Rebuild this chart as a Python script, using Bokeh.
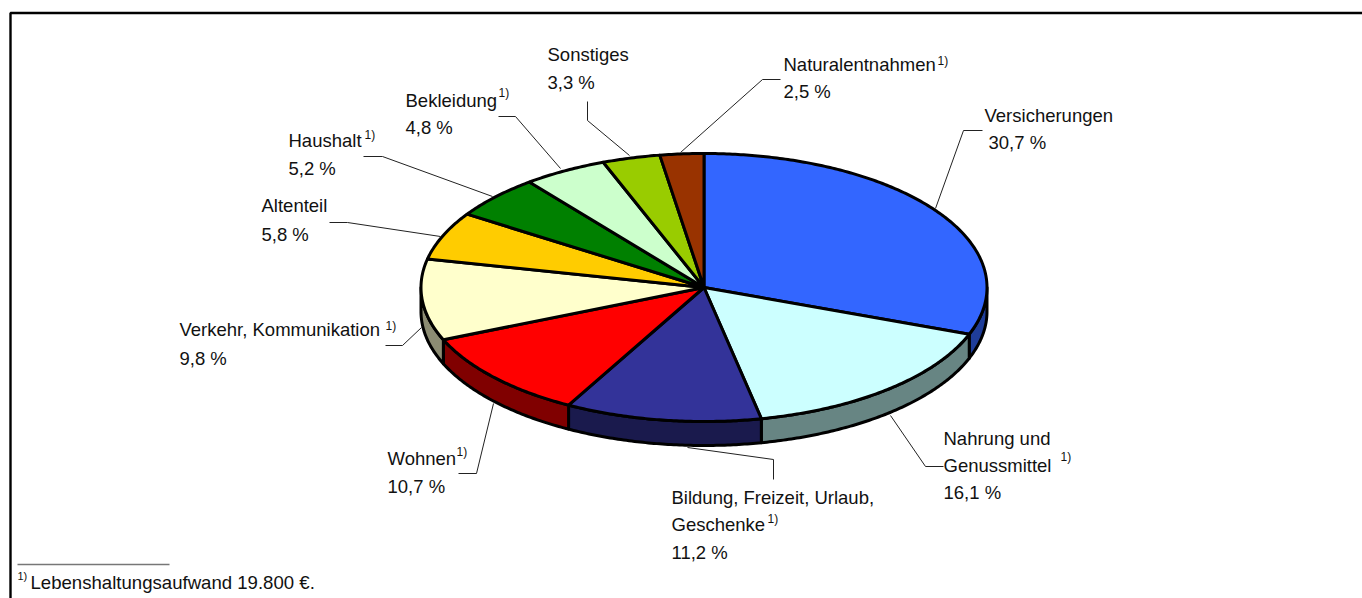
import math
from bokeh.plotting import figure
from bokeh.embed import file_html
from bokeh.resources import INLINE
from bokeh.core.properties import value

categories = ["Versicherungen", "Nahrung und Genussmittel", "Bildung, Freizeit, Urlaub, Geschenke",
              "Wohnen", "Verkehr, Kommunikation", "Altenteil", "Haushalt", "Bekleidung",
              "Sonstiges", "Naturalentnahmen"]
shares = [30.7, 16.1, 11.2, 10.7, 9.8, 5.8, 5.2, 4.8, 3.3, 2.5]
top_colors = ["#3366FF", "#CCFFFF", "#333399", "#FF0000", "#FFFFCC",
              "#FFCC00", "#008000", "#CCFFCC", "#99CC00", "#993300"]
side_colors = ["#1F3D99", "#678583", "#1A1A4D", "#800000", "#8C8C73",
               "#806600", "#004000", "#668066", "#4D6600", "#4D1A00"]

FS, SS = 18.5, 12
labels = [
    ("Sonstiges", 547, 54), ("3,3 %", 547, 82),
    ("Naturalentnahmen", 783, 64), ("2,5 %", 783, 91),
    ("Versicherungen", 984, 115), ("30,7 %", 988, 142),
    ("Bekleidung", 405, 100), ("4,8 %", 405, 127),
    ("Haushalt", 288, 140), ("5,2 %", 288, 168),
    ("Altenteil", 261, 205), ("5,8 %", 261, 234),
    ("Verkehr, Kommunikation", 179, 329), ("9,8 %", 179, 358),
    ("Wohnen", 387, 458), ("10,7 %", 387, 486),
    ("Nahrung und", 943, 438), ("Genussmittel", 943, 465), ("16,1 %", 943, 492),
    ("Bildung, Freizeit, Urlaub,", 671, 497), ("Geschenke", 671, 524), ("11,2 %", 671, 552),
]
notes = [("1)", 937, 60), ("1)", 498, 92), ("1)", 364, 134), ("1)", 385, 325),
         ("1)", 456, 451), ("1)", 1060, 456), ("1)", 767, 518)]
leaders = [
    ([935, 963, 982], [208, 130, 130]),
    ([890, 925, 943], [415, 466, 466]),
    ([687, 773, 773], [447, 459, 479]),
    ([493, 476, 458], [403, 473, 473]),
    ([421, 402, 385], [327, 345, 345]),
    ([440, 347, 329], [236, 222, 222]),
    ([492, 382, 363], [196, 156, 156]),
    ([560, 515, 498], [168, 116, 116]),
    ([629, 587, 587], [155, 120, 101]),
    ([680, 762, 780], [152, 79, 79]),
]

W, H = 1362, 598
p = figure(width=W, height=H, x_range=(0, W), y_range=(H, 0),
           output_backend="svg", toolbar_location=None, min_border=0)
p.axis.visible = False
p.grid.visible = False
p.outline_line_color = None

p.line([10, 10, 1362], [598, 12.5, 12.5], line_color="black", line_width=2.4)

CX, CY, RX, RY, DEPTH = 703.5, 287, 283, 134, 24
total = sum(shares)

def pt(t, dy=0):
    return CX + RX * math.sin(t), CY - RY * math.cos(t) + dy

def arc(a, b, dy=0):
    n = max(2, int(abs(b - a) / 0.01))
    pts = [pt(a + (b - a) * i / n, dy) for i in range(n + 1)]
    return [q[0] for q in pts], [q[1] for q in pts]

bounds = [0]
for s in shares:
    bounds.append(bounds[-1] + s / total * 2 * math.pi)

for i in range(len(shares)):
    a, b = max(bounds[i], math.pi / 2), min(bounds[i + 1], 3 * math.pi / 2)
    if b <= a:
        continue
    x1, y1 = arc(a, b)
    x2, y2 = arc(b, a, DEPTH)
    p.patch(x1 + x2, y1 + y2, fill_color=side_colors[i], line_color="black",
            line_width=3, line_join="round")

for i in range(len(shares)):
    x1, y1 = arc(bounds[i], bounds[i + 1])
    p.patch([CX] + x1, [CY] + y1, fill_color=top_colors[i], line_color="black",
            line_width=3, line_join="round")

for xs, ys in leaders:
    p.line(xs, ys, line_color="#222222", line_width=1)

p.text([l[1] for l in labels], [l[2] for l in labels], text=[l[0] for l in labels],
       text_font=value("Liberation Sans"), text_font_size=f"{FS}px", text_color="#111111",
       text_baseline="middle", text_align="left")
p.text([n[1] for n in notes], [n[2] for n in notes], text=[n[0] for n in notes],
       text_font=value("Liberation Sans"), text_font_size=f"{SS}px", text_color="#111111",
       text_baseline="middle", text_align="left")

p.line([17, 169], [564, 564], line_color="#777777", line_width=1.5)
p.text([17], [575], text=["1)"], text_font=value("Liberation Sans"), text_font_size="11px",
       text_color="#111111", text_baseline="middle")
p.text([30], [582], text=["Lebenshaltungsaufwand 19.800 €."], text_font=value("Liberation Sans"),
       text_font_size="18.6px", text_color="#111111", text_baseline="middle")

open("out.html", "w").write(file_html(p, INLINE))
